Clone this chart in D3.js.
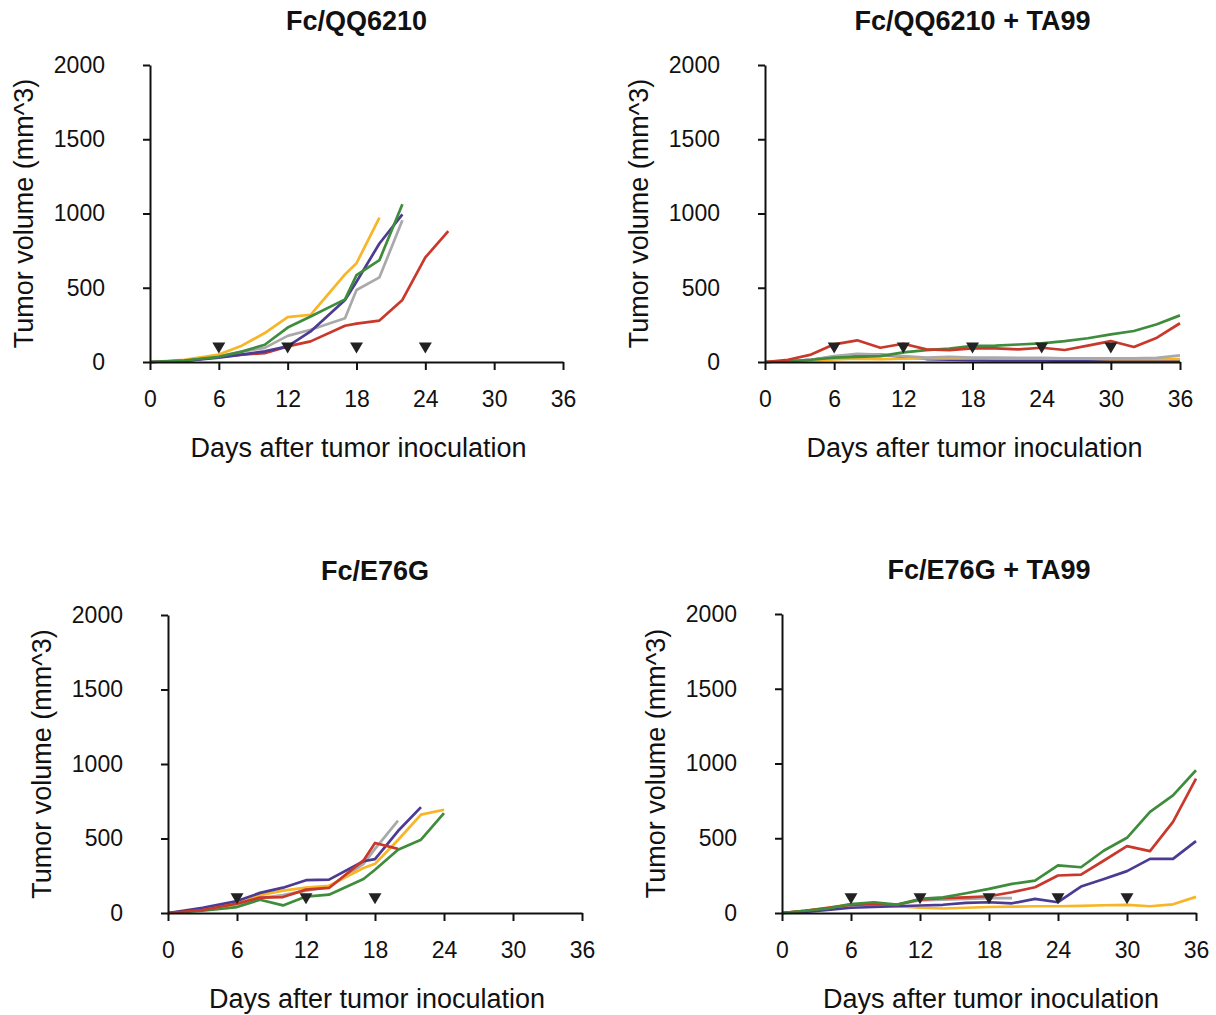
<!DOCTYPE html>
<html>
<head>
<meta charset="utf-8">
<script src="https://cdn.jsdelivr.net/npm/d3@7"></script>
<style>
  html, body { margin: 0; padding: 0; background: #fff; }
  svg { display: block; font-family: "Liberation Sans", Arial, Helvetica, sans-serif; }
</style>
</head>
<body>
<svg id="chart" width="1216" height="1015"></svg>
<script>
// ---- data: tumor volume (mm^3) per mouse, by day after inoculation ----
const dayTicks = [0, 6, 12, 18, 24, 30, 36];
const volumeTicks = [0, 500, 1000, 1500, 2000];

// Fc/QQ6210
const daysQQ = [0, 3, 6, 8, 10, 12, 14, 17, 18, 20, 22, 24, 26];
const qqYellow = [0, 15, 50, 110, 195, 302, 318, 590, 665, 972, null, null, null];
const qqGreen  = [0, 10, 35, 70, 116, 232, 306, 422, 585, 686, 1062, null, null];
const qqPurple = [0, 8, 30, 50, 72, 105, 206, 418, 541, 798, 994, null, null];
const qqGray   = [0, 10, 38, 70, 95, 176, 217, 295, 485, 570, 954, null, null];
const qqRed    = [0, 8, 35, 50, 60, 105, 139, 244, 258, 279, 418, 704, 882];
const qqDosing = [6, 12, 18, 24];

// Fc/QQ6210 + TA99
const daysQQT = [0, 2, 4, 6, 8, 10, 12, 14, 16, 18, 20, 22, 24, 26, 28, 30, 32, 34, 36];
const qqtRed    = [0, 15, 50, 119, 146, 96, 123, 85, 80, 92, 92, 85, 96, 81, 110, 141, 101, 164, 261];
const qqtGreen  = [0, 5, 15, 30, 35, 40, 65, 80, 90, 108, 110, 118, 126, 141, 160, 186, 209, 254, 314];
const qqtPurple = [0, 5, 15, 35, 50, 50, 35, 20, 15, 12, 10, 10, 10, 8, 8, 8, 8, 8, 8];
const qqtGray   = [0, 5, 15, 40, 55, 50, 40, 30, 35, 30, 30, 28, 28, 25, 25, 25, 25, 28, 45];
const qqtYellow = [0, 5, 10, 18, 22, 20, 22, 25, 25, 25, 25, 25, 25, 22, 22, 20, 20, 20, 20];
const qqtDosing = [6, 12, 18, 24, 30];

// Fc/E76G
const daysE = [0, 3, 6, 8, 10, 12, 14, 17, 18, 20, 22, 24];
const ePurple = [0, 35, 80, 135, 170, 220, 224, 347, 362, 550, 711, null];
const eYellow = [0, 25, 60, 120, 150, 170, 183, 302, 330, 490, 660, 693];
const eGreen  = [0, 15, 40, 89, 51, 110, 123, 228, 290, 425, 492, 671];
const eRed    = [0, 20, 63, 103, 107, 157, 168, 353, 470, 430, null, null];
const eGray   = [0, 20, 55, 100, 120, 150, 175, 330, 430, 620, null, null];
const eDosing = [6, 12, 18];

// Fc/E76G + TA99
const daysET = [0, 2, 4, 6, 8, 10, 12, 14, 16, 18, 20, 22, 24, 26, 28, 30, 32, 34, 36];
const etGreen  = [0, 15, 30, 60, 72, 56, 94, 105, 132, 161, 195, 217, 318, 306, 418, 503, 676, 787, 955];
const etRed    = [0, 15, 35, 55, 60, 55, 90, 100, 105, 112, 139, 172, 251, 257, 351, 447, 414, 609, 899];
const etPurple = [0, 8, 20, 35, 40, 45, 50, 55, 68, 72, 65, 94, 72, 177, 228, 280, 362, 362, 481];
const etYellow = [0, 15, 35, 60, 55, 45, 35, 30, 35, 40, 42, 45, 45, 48, 52, 55, 45, 58, 108];
const etGray   = [0, 12, 30, 50, 60, 55, 85, 90, 95, 100, 100, null, null, null, null, null, null, null, null];
const etDosing = [6, 12, 18, 24, 30];

const colors = {
  red: "#c9392b",
  green: "#3f8c3c",
  purple: "#4b3b92",
  yellow: "#f8b526",
  gray: "#a9a9ab"
};

const panels = [
  { title: "Fc/QQ6210", left: 150, right: 563, top: 65, bottom: 362, days: daysQQ, dosing: qqDosing,
    series: [["red", qqRed], ["gray", qqGray], ["yellow", qqYellow], ["purple", qqPurple], ["green", qqGreen]] },
  { title: "Fc/QQ6210 + TA99", left: 765, right: 1180, top: 65, bottom: 362, days: daysQQT, dosing: qqtDosing,
    series: [["purple", qqtPurple], ["yellow", qqtYellow], ["gray", qqtGray], ["green", qqtGreen], ["red", qqtRed]] },
  { title: "Fc/E76G", left: 168, right: 582, top: 615, bottom: 913, days: daysE, dosing: eDosing,
    series: [["gray", eGray], ["green", eGreen], ["yellow", eYellow], ["purple", ePurple], ["red", eRed]] },
  { title: "Fc/E76G + TA99", left: 782, right: 1196, top: 614, bottom: 913, days: daysET, dosing: etDosing,
    series: [["gray", etGray], ["yellow", etYellow], ["purple", etPurple], ["red", etRed], ["green", etGreen]] }
];

const svg = d3.select("#chart");
const font = "'Liberation Sans', Arial, sans-serif";

panels.forEach(p => {
  const g = svg.append("g");
  const x = d3.scaleLinear().domain([0, 36]).range([p.left, p.right]);
  const y = d3.scaleLinear().domain([0, 2000]).range([p.bottom, p.top]);

  // tumor growth curves
  const line = d3.line()
    .defined(d => d.v !== null)
    .x(d => x(d.day))
    .y(d => y(d.v));

  p.series.forEach(([key, values]) => {
    const pts = p.days.map((day, i) => ({ day, v: values[i] }));
    g.append("path")
      .datum(pts)
      .attr("d", line)
      .attr("fill", "none")
      .attr("stroke", colors[key])
      .attr("stroke-width", 2.7)
      .attr("stroke-linejoin", "round");
  });

  // dosing markers
  g.selectAll("path.dose")
    .data(p.dosing)
    .join("path")
    .attr("class", "dose")
    .attr("d", d => {
      const cx = x(d), cy = y(95);
      return `M${cx - 6.5},${cy - 5.5}L${cx + 6.5},${cy - 5.5}L${cx},${cy + 5.5}Z`;
    })
    .attr("fill", "#222");

  // axes
  const xAxis = g.append("g")
    .attr("transform", `translate(0,${p.bottom})`)
    .call(d3.axisBottom(x).tickValues(dayTicks).tickFormat(d3.format("d"))
      .tickSizeInner(8).tickSizeOuter(0).tickPadding(21));
  const yAxis = g.append("g")
    .attr("transform", `translate(${p.left},0)`)
    .call(d3.axisLeft(y).tickValues(volumeTicks).tickFormat(d3.format("d"))
      .tickSizeInner(7).tickSizeOuter(0).tickPadding(38));

  [xAxis, yAxis].forEach(a => {
    a.select(".domain").attr("stroke", "#111").attr("stroke-width", 2);
    a.selectAll(".tick line").attr("stroke", "#111").attr("stroke-width", 2);
    a.selectAll(".tick text")
      .attr("fill", "#111")
      .style("font-size", "23px")
      .style("font-family", font);
  });

  const cx = (p.left + p.right) / 2;
  g.append("text")
    .attr("x", cx).attr("y", p.top - 35)
    .attr("text-anchor", "middle")
    .style("font-size", "27px").style("font-weight", "bold")
    .attr("fill", "#111")
    .text(p.title);

  g.append("text")
    .attr("x", cx + 2).attr("y", p.bottom + 95)
    .attr("text-anchor", "middle")
    .style("font-size", "27px")
    .attr("fill", "#111")
    .text("Days after tumor inoculation");

  g.append("text")
    .attr("transform", `translate(${p.left - 117},${(p.top + p.bottom) / 2}) rotate(-90)`)
    .attr("text-anchor", "middle")
    .style("font-size", "27px")
    .attr("fill", "#111")
    .text("Tumor volume (mm^3)");
});
</script>
</body>
</html>
